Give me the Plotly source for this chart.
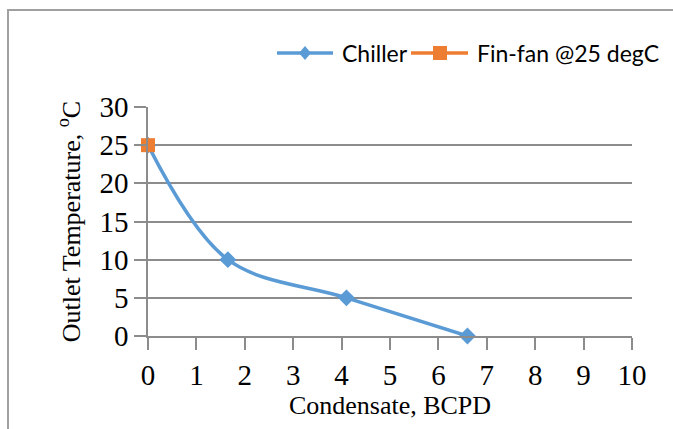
import plotly.graph_objects as go

chiller_x = [0, 1.65, 4.1, 6.6]
chiller_y = [25, 10, 5, 0]
finfan_x = [0]
finfan_y = [25]
x_ticks = list(range(0, 11))
y_ticks = [0, 5, 10, 15, 20, 25, 30]
series_names = ["Chiller", "Fin-fan @25 degC"]
series_colors = ["#5B9BD5", "#ED7D31"]

fig = go.Figure()
fig.add_trace(go.Scatter(
    x=chiller_x, y=chiller_y, name=series_names[0], mode="lines+markers",
    line=dict(color=series_colors[0], width=3.5, shape="spline", smoothing=1.0),
    marker=dict(symbol="diamond", size=13, color=series_colors[0]),
    cliponaxis=False,
))
fig.add_trace(go.Scatter(
    x=finfan_x, y=finfan_y, name=series_names[1], mode="lines+markers",
    line=dict(color=series_colors[1], width=3.5),
    marker=dict(symbol="square", size=14, color=series_colors[1]),
    cliponaxis=False,
))

grid = "#8C8C8C"
L, R, T, B = 148, 632, 107, 336
W, H = 673, 429


def px(xp):
    return (xp - L) / (R - L)


def py(yp):
    return (B - yp) / (B - T)


fig.update_layout(
    width=W, height=H,
    margin=dict(l=L, r=W - R, t=T, b=H - B),
    paper_bgcolor="white", plot_bgcolor="white",
    font=dict(family="Liberation Serif", color="black"),
    showlegend=False,
    xaxis=dict(range=[0, 10], tickvals=x_ticks, showgrid=False, zeroline=False,
               showline=True, linecolor=grid, linewidth=1.5,
               ticks="outside", ticklen=12, tickcolor=grid, tickwidth=1.5,
               tickfont=dict(size=29, family="Liberation Serif"),
               title=dict(text="Condensate, BCPD", font=dict(size=26, family="Liberation Serif"), standoff=3)),
    yaxis=dict(range=[0, 30], tickvals=y_ticks, showgrid=True, gridcolor=grid, gridwidth=1.5,
               zeroline=False, showline=True, linecolor=grid, linewidth=1.5,
               ticks="outside", ticklen=12, tickcolor=grid, tickwidth=1.5,
               tickfont=dict(size=29, family="Liberation Serif"),
               title=dict(text="Outlet Temperature, <sup>o</sup>C", font=dict(size=26, family="Liberation Serif"), standoff=11)),
)

# chart border
fig.add_shape(type="rect", xref="paper", yref="paper",
              x0=px(8), x1=px(700), y0=py(460), y1=py(10),
              line=dict(color="#A0A0A0", width=2), fillcolor="rgba(0,0,0,0)", layer="below")

# custom legend (Excel style: long line with marker in middle)
ly = 53
fig.add_shape(type="line", xref="paper", yref="paper", x0=px(277), x1=px(333), y0=py(ly), y1=py(ly),
              line=dict(color=series_colors[0], width=3.5))
fig.add_shape(type="path", xref="paper", yref="paper",
              path=f"M {px(305)} {py(ly-7)} L {px(311)} {py(ly)} L {px(305)} {py(ly+7)} L {px(299)} {py(ly)} Z",
              line=dict(color=series_colors[0], width=0), fillcolor=series_colors[0])
fig.add_annotation(x=px(340), y=py(ly), xref="paper", yref="paper", text=series_names[0],
                   showarrow=False, xanchor="left", yanchor="middle",
                   font=dict(family="Lato", size=23, color="black"))
fig.add_shape(type="line", xref="paper", yref="paper", x0=px(411), x1=px(468), y0=py(ly), y1=py(ly),
              line=dict(color=series_colors[1], width=3.5))
fig.add_shape(type="rect", xref="paper", yref="paper", x0=px(433), x1=px(447), y0=py(ly+7), y1=py(ly-7),
              line=dict(color=series_colors[1], width=0), fillcolor=series_colors[1])
fig.add_annotation(x=px(475), y=py(ly), xref="paper", yref="paper", text=series_names[1],
                   showarrow=False, xanchor="left", yanchor="middle",
                   font=dict(family="Lato", size=23, color="black"))

fig.write_html("out.html", post_script="document.body.style.margin='0';",
               config={"displayModeBar": False})
